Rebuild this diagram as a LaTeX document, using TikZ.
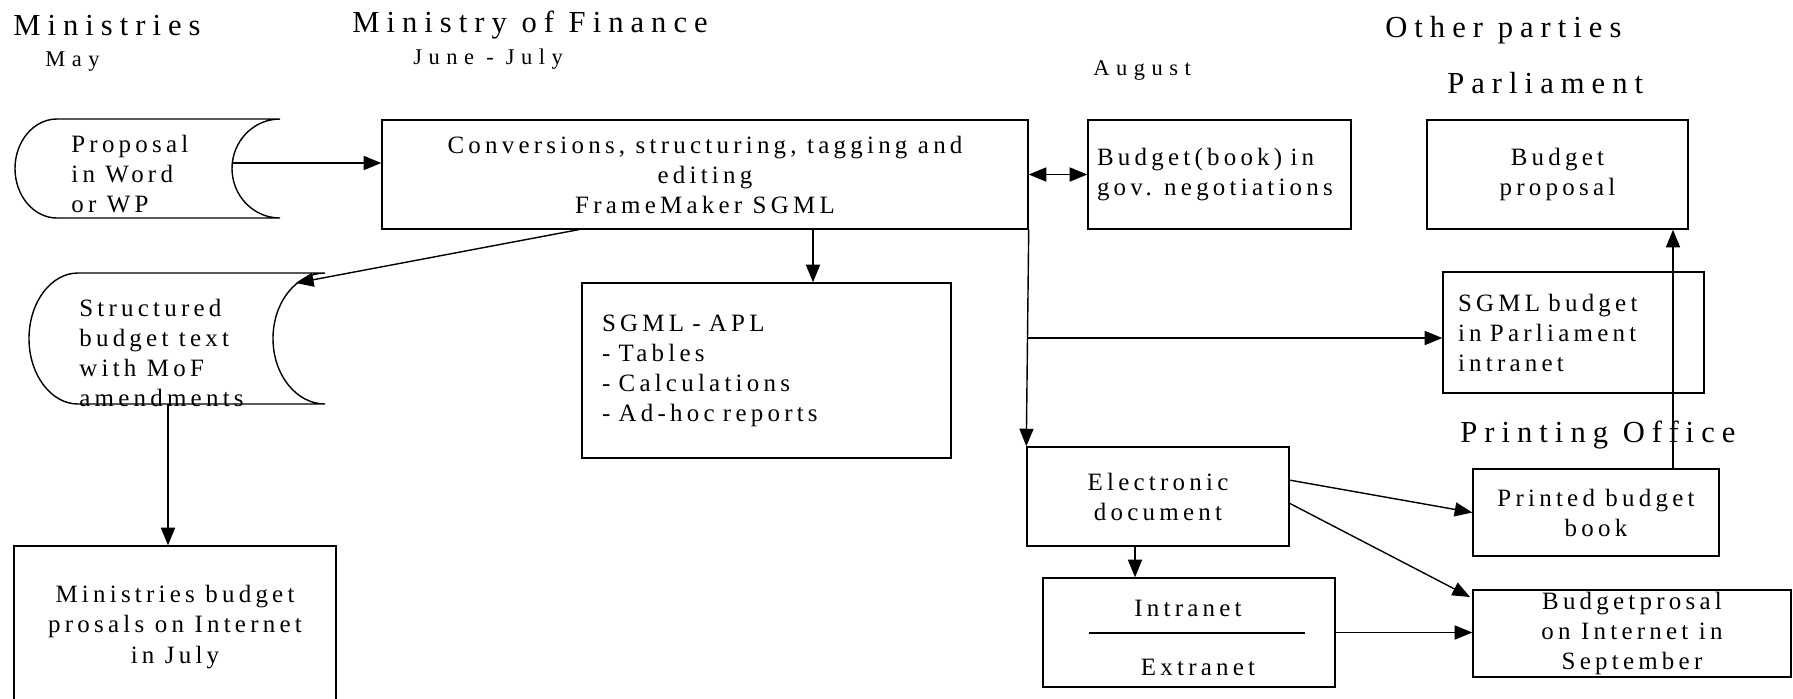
\documentclass[tikz,border=0pt]{standalone}
\usepackage{fontspec}
\setmainfont{Liberation Serif}[LetterSpace=17]
\usetikzlibrary{arrows.meta,positioning}
\newlength{\dpx}
\setlength{\dpx}{0.02cm}
\newcommand{\txtfont}{\fontsize{14.2pt}{17.1pt}\selectfont}
\newcommand{\headfont}{\fontsize{17.4pt}{20pt}\selectfont\addfontfeature{LetterSpace=23}}
\newcommand{\monthfont}{\fontsize{12.8pt}{15pt}\selectfont\addfontfeature{LetterSpace=29}}
\tikzset{
	>={Triangle[length=10pt,width=8pt]},
	link/.style={line width=0.8pt},
	box/.style={draw, line width=0.8pt, inner sep=0pt, align=center, font=\txtfont},
	txt/.style={inner sep=0pt, font=\txtfont},
	head/.style={anchor=base west, inner sep=0pt, font=\headfont},
	month/.style={anchor=base west, inner sep=0pt, font=\monthfont},
}

\begin{document}
\begin{tikzpicture}[x=\dpx, y=-\dpx]
	\useasboundingbox (0,0) rectangle (1793,698);
	% column heads
	\node[head] (hmin) at (13,35) {Ministries};
	\node[month] (hmay) at (45,66) {May};
	\node[head] (hfin) at (352,32) {Ministry of Finance};
	\node[month] (hjun) at (413,64) {June - July};
	\node[month] (haug) at (1093,75) {August};
	\node[head] (hoth) at (1385,37) {Other parties};
	\node[head] (hpar) at (1447,93) {Parliament};
	\node[head] (hprn) at (1460,442) {Printing Office};
	% stored documents
	\draw[link] (57,119) -- (280,119) .. controls (253.5,119) and (232,141.2) .. (232,168.5) .. controls (232,195.8) and (253.5,218) .. (280,218) -- (57,218) .. controls (33.8,218) and (15,195.8) .. (15,168.5) .. controls (15,141.2) and (33.8,119) .. cycle;
	\node[txt, anchor=north west, align=left] (prop) at (71,135) {Proposal\\in Word\\or WP};
	\draw[link] (78,273) -- (325,273) .. controls (296.3,273) and (273,302.3) .. (273,338.5) .. controls (273,374.7) and (296.3,404) .. (325,404) -- (78,404) .. controls (51,404) and (29,374.7) .. (29,338.5) .. controls (29,302.3) and (51,273) .. cycle;
	\node[txt, anchor=north west, align=left] (stru) at (79,299) {Structured\\budget text\\with MoF\\amendments};
	% boxes
	\node[box, minimum width=646\dpx, minimum height=109\dpx] (conv) at (705,174.5) {Conversions, structuring, tagging and\\editing\\FrameMaker SGML};
	\node[box, minimum width=263\dpx, minimum height=109\dpx, text width=245\dpx, align=left] (book) at (1219.5,174.5) {Budget(book) in\\gov. negotiations};
	\node[box, minimum width=261\dpx, minimum height=109\dpx] (bparl) at (1557.5,174.5) {Budget\\proposal};
	\node[box, minimum width=261\dpx, minimum height=121\dpx, text width=231\dpx, align=left] (sgmlb) at (1573.5,332.5) {SGML budget\\in Parliament\\intranet};
	\node[box, minimum width=369\dpx, minimum height=175\dpx, text width=329\dpx, align=left] (sgmla) at (766.5,370.5) {SGML - APL\\- Tables\\- Calculations\\- Ad-hoc reports};
	\node[box, minimum width=322\dpx, minimum height=162\dpx] (mbud) at (175,627) {Ministries budget\\prosals on Internet\\in July};
	\node[box, minimum width=262\dpx, minimum height=99\dpx] (elec) at (1158,496.5) {Electronic\\document};
	\node[box, minimum width=246\dpx, minimum height=87\dpx] (prnt) at (1596,512.5) {Printed budget\\book};
	\node[box, minimum width=318\dpx, minimum height=87\dpx] (inet) at (1632,633.5) {Budgetprosal\\on Internet in\\September};
	\node[box, minimum width=292\dpx, minimum height=109\dpx] (nets) at (1189,632.5) {};
	\node[txt, anchor=base] (intra) at (1188,616) {Intranet};
	\node[txt, anchor=base] (extra) at (1198,675) {Extranet};
	\draw[link] (1089,633) -- (1305,633);
	% connectors
	\coordinate (pout) at (232,163);
	\draw[link,->] (pout) -- (pout -| conv.west);
	\draw[link,<->] (conv.east) -- (book.west);
	\coordinate (cout) at (582,229);
	\coordinate (sin) at (296,283);
	\draw[link,->] (cout) -- (sin);
	\coordinate (capl) at (813,229);
	\draw[link,->] (capl) -- (capl |- sgmla.north);
	\draw[link,->] (conv.south east) -- (elec.north west);
	\coordinate (split) at (1028,338);
	\draw[link,->] (split) -- (split -| sgmlb.west);
	\coordinate (sout) at (168,404);
	\draw[link,->] (sout) -- (sout |- mbud.north);
	\coordinate (eout) at (1135,546);
	\draw[link,->] (eout) -- (eout |- nets.north);
	\coordinate (eprn) at (1289,480);
	\draw[link,->] (eprn) -- (prnt.west);
	\coordinate (enet) at (1289,503);
	\coordinate (ncorner) at (1470,597);
	\draw[link,->] (enet) -- (ncorner);
	\draw[link,->] (nets.east) -- (nets.east -| inet.west);
	\coordinate (pup) at (1673,469);
	\draw[link,->] (pup) -- (pup |- bparl.south);
\end{tikzpicture}
\end{document}
